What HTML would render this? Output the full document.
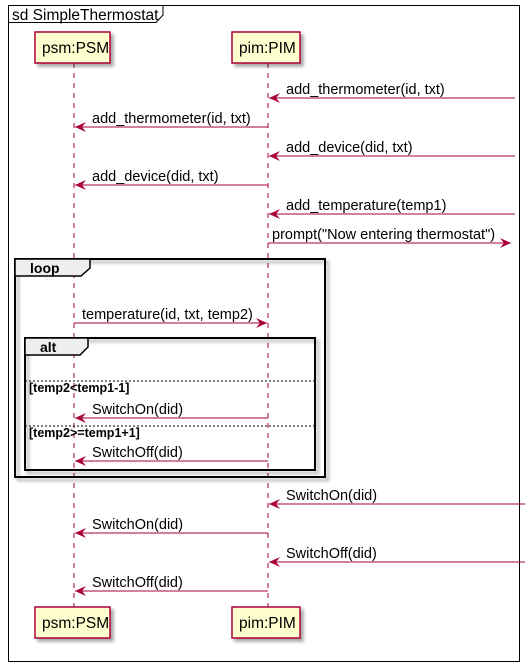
<!DOCTYPE html>
<html><head><meta charset="utf-8"><style>body{margin:0;background:#fff}svg{display:block}text{font-family:"Liberation Sans",sans-serif;font-size:14.5px;fill:#000}</style></head><body>
<svg width="530" height="669" viewBox="0 0 530 669">
<defs>
<marker id="a" markerWidth="12" markerHeight="10" refX="11" refY="5" orient="auto" markerUnits="userSpaceOnUse"><path d="M0,0 L11,5 L0,10 L4,5 Z" fill="#A80036"/></marker>
<filter id="s" x="-5%" y="-5%" width="115%" height="115%"><feDropShadow dx="3" dy="3" stdDeviation="1.5" flood-color="#000" flood-opacity="0.35"/></filter>
</defs>
<rect x="8.5" y="5.5" width="511" height="656" fill="none" stroke="#000" stroke-width="1"/>
<path d="M8.5,22.5 H156 L163,15 V5.5" fill="none" stroke="#000"/>
<text x="12" y="20" style="font-size:15.5px">sd SimpleThermostat</text>
<g stroke="#A80036" stroke-dasharray="5,5" stroke-width="1"><line x1="74" y1="63" x2="74" y2="607"/><line x1="268" y1="63" x2="268" y2="607"/></g>
<g fill="#FEFECE" stroke="#A80036" stroke-width="1.5" filter="url(#s)">
<rect x="35" y="32" width="75" height="31"/><rect x="232" y="32" width="68" height="31"/>
<rect x="35" y="607" width="75" height="31"/><rect x="232" y="607" width="68" height="31"/></g>
<text x="42" y="53" style="font-size:15.5px">psm:PSM</text><text x="239" y="53" style="font-size:15.5px">pim:PIM</text><text x="42" y="628" style="font-size:15.5px">psm:PSM</text><text x="239" y="628" style="font-size:15.5px">pim:PIM</text>
<rect x="15" y="259" width="310" height="218" fill="none" stroke="#000" stroke-width="2" filter="url(#s)"/>
<path d="M15,259 H90 V268 L81,276 H15 Z" fill="#EEEEEE" stroke="#000" stroke-width="1.5"/>
<text x="30" y="273" style="font-weight:bold;font-size:14px">loop</text>
<rect x="25" y="338" width="290" height="132" fill="none" stroke="#000" stroke-width="2" filter="url(#s)"/>
<path d="M25,338 H88 V347 L80,355 H25 Z" fill="#EEEEEE" stroke="#000" stroke-width="1.5"/>
<text x="40" y="352" style="font-weight:bold;font-size:14px">alt</text>
<g stroke="#000" stroke-dasharray="2,2"><line x1="25" y1="381" x2="315" y2="381"/><line x1="25" y1="426" x2="315" y2="426"/></g>
<text x="29" y="392" style="font-size:12.5px;font-weight:bold">[temp2&lt;temp1-1]</text><text x="29" y="437" style="font-size:12.5px;font-weight:bold">[temp2&gt;=temp1+1]</text>
<g stroke="#A80036" stroke-width="1" marker-end="url(#a)">
<line x1="515" y1="98" x2="269" y2="98"/>
<line x1="268" y1="127" x2="75" y2="127"/>
<line x1="515" y1="156" x2="269" y2="156"/>
<line x1="268" y1="185" x2="75" y2="185"/>
<line x1="515" y1="214" x2="269" y2="214"/>
<line x1="268" y1="243" x2="511" y2="243"/>
<line x1="74" y1="323" x2="267" y2="323"/>
<line x1="268" y1="418" x2="75" y2="418"/>
<line x1="268" y1="461" x2="75" y2="461"/>
<line x1="525" y1="504" x2="269" y2="504"/>
<line x1="268" y1="533" x2="75" y2="533"/>
<line x1="525" y1="562" x2="269" y2="562"/>
<line x1="268" y1="591" x2="75" y2="591"/>
</g>
<text x="286" y="94">add_thermometer(id, txt)</text>
<text x="92" y="123">add_thermometer(id, txt)</text>
<text x="286" y="152">add_device(did, txt)</text>
<text x="92" y="181">add_device(did, txt)</text>
<text x="286" y="210">add_temperature(temp1)</text>
<text x="272" y="239">prompt("Now entering thermostat")</text>
<text x="82" y="319">temperature(id, txt, temp2)</text>
<text x="92" y="414">SwitchOn(did)</text>
<text x="92" y="457">SwitchOff(did)</text>
<text x="286" y="500">SwitchOn(did)</text>
<text x="92" y="529">SwitchOn(did)</text>
<text x="286" y="558">SwitchOff(did)</text>
<text x="92" y="587">SwitchOff(did)</text>
</svg>
</body></html>
